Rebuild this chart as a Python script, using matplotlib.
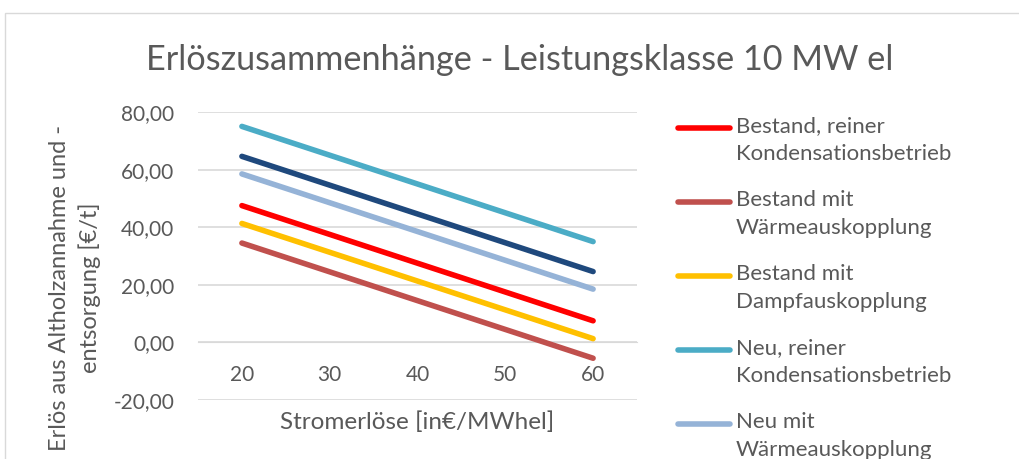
import matplotlib
matplotlib.use("Agg")
import matplotlib.pyplot as plt
from matplotlib.lines import Line2D
from matplotlib.patches import Rectangle

plt.rcParams['font.family'] = ['Lato', 'DejaVu Sans']

# Stromerlöse [€/MWhel]
strom = [20, 30, 40, 50, 60]

# Erlös aus Altholzannahme und -entsorgung [€/t]
bestand_kond = [47.5, 37.5, 27.5, 17.5, 7.5]
bestand_waerme = [34.5, 24.5, 14.5, 4.5, -5.5]
bestand_dampf = [41.3, 31.3, 21.3, 11.3, 1.3]
neu_kond = [75.0, 65.0, 55.0, 45.0, 35.0]
neu_waerme = [58.5, 48.5, 38.5, 28.5, 18.5]
neu_dampf = [64.6, 54.6, 44.6, 34.6, 24.6]

labels = ["Bestand, reiner\nKondensationsbetrieb",
          "Bestand mit\nWärmeauskopplung",
          "Bestand mit\nDampfauskopplung",
          "Neu, reiner\nKondensationsbetrieb",
          "Neu mit\nWärmeauskopplung",
          "Neu mit\nDampfauskopplung"]
series = [bestand_kond, bestand_waerme, bestand_dampf,
          neu_kond, neu_waerme, neu_dampf]
colors = ["#FF0000", "#C0504D", "#FFC000", "#4BACC6", "#95B3D7", "#1F497D"]

yticks = [-20, 0, 20, 40, 60, 80]
xticks = [20, 30, 40, 50, 60]

txt = "#595959"
grid = "#D9D9D9"
W, H = 1020, 459

fig = plt.figure(figsize=(W / 100, H / 100), dpi=100)
ax = fig.add_axes([198 / W, 1 - 400 / H, (637 - 198) / W, (400 - 112) / H])

for vals, c in zip(series, colors):
    ax.plot(strom, vals, color=c, lw=4, solid_capstyle='round', zorder=3)

ax.set_xlim(15, 65)
ax.set_ylim(-20, 80)
ax.set_yticks(yticks)
ax.set_yticklabels([f"{v:.2f}".replace(".", ",") for v in yticks])
ax.set_xticks(xticks)
ax.set_xticklabels([str(v) for v in xticks])
for s in ["top", "right", "left"]:
    ax.spines[s].set_visible(False)
ax.spines["bottom"].set_position(("data", 0))
ax.spines["bottom"].set_color(grid)
ax.yaxis.grid(True, color=grid, lw=1.2)
ax.set_axisbelow(True)
ax.tick_params(axis="y", length=0, pad=17, labelsize=15, labelcolor=txt)
ax.tick_params(axis="x", length=0, pad=16, labelsize=15, labelcolor=txt)

fig.text(520 / W, 1 - 60 / H, "Erlöszusammenhänge - Leistungsklasse 10 MW el",
         ha="center", va="center", fontsize=24.7, color=txt)
fig.text(417 / W, 1 - 422 / H, "Stromerlöse [in€/MWhel]",
         ha="center", va="center", fontsize=17.5, color=txt)
fig.text(75 / W, 1 - 288 / H, "Erlös aus Altholzannahme und -\nentsorgung [€/t]",
         ha="center", va="center", rotation=90, multialignment="center",
         fontsize=17, color=txt, linespacing=1.4)

# legend, handle aligned with the first text line
for i, (lab, c) in enumerate(zip(labels, colors)):
    y0 = 128 + 74 * i
    fig.add_artist(Line2D([678 / W, 730 / W], [1 - y0 / H, 1 - y0 / H],
                          color=c, lw=4, solid_capstyle='round'))
    fig.text(736 / W, 1 - (y0 - 12) / H, lab, ha="left", va="top",
             fontsize=16, color=txt, linespacing=1.5)

fig.add_artist(Rectangle((5 / W, -0.2), 1.2, 1.2 + (1 - 13 / H) - 1,
                         transform=fig.transFigure, fill=False,
                         edgecolor=grid, lw=1))

fig.savefig("out.png", dpi=100)
